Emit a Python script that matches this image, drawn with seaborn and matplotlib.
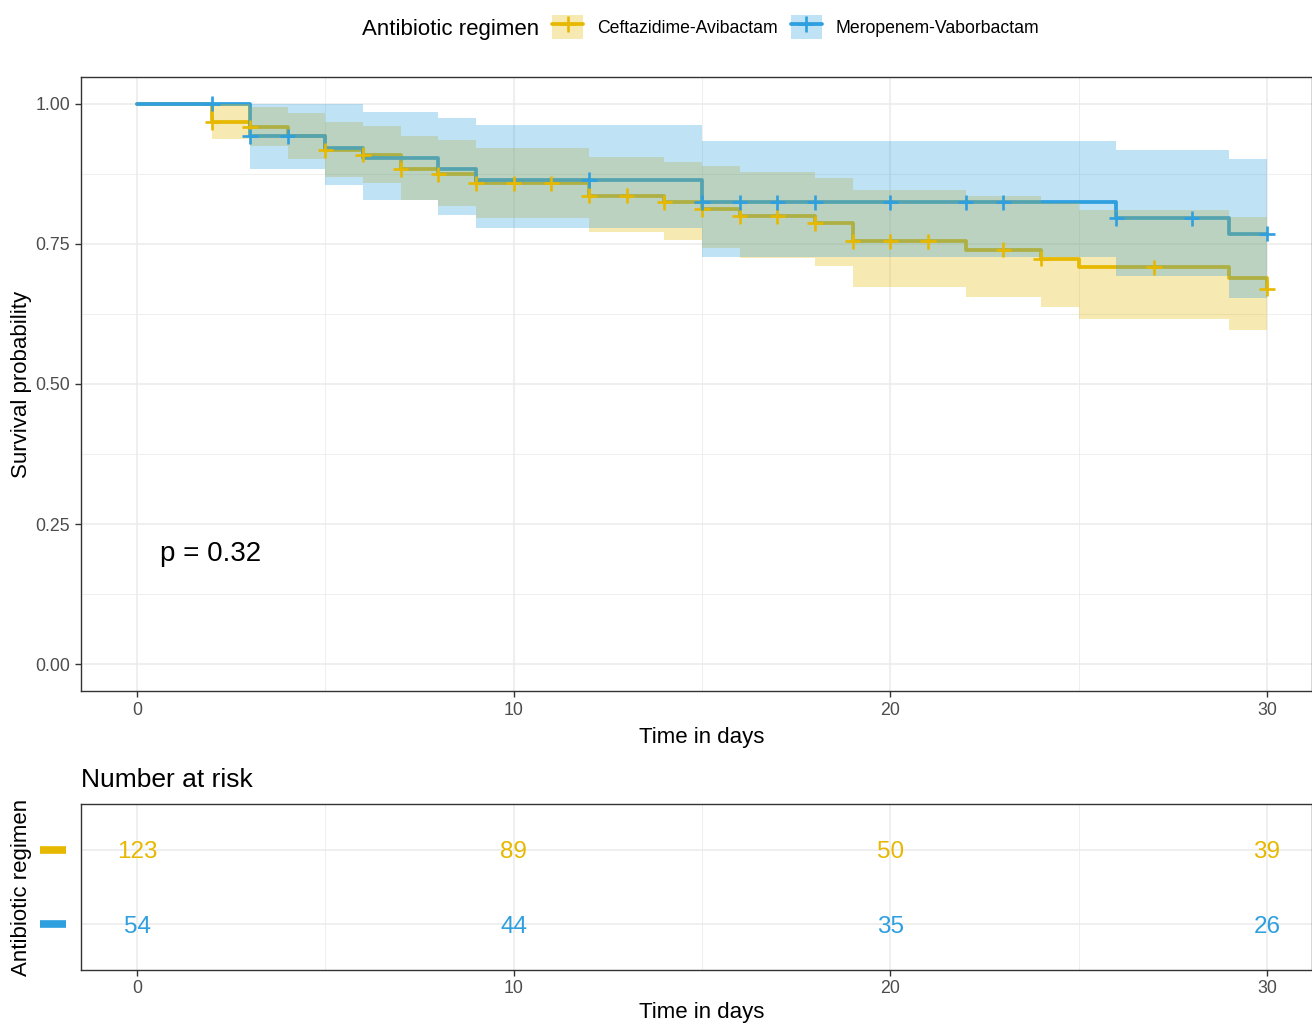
import numpy as np
import pandas as pd
import matplotlib
matplotlib.use('Agg')
import matplotlib.pyplot as plt
import matplotlib.transforms as mtransforms
from matplotlib.lines import Line2D
from matplotlib.patches import Patch
from matplotlib.ticker import MultipleLocator
import seaborn as sns

groups = ['Ceftazidime-Avibactam', 'Meropenem-Vaborbactam']
colors = ['#E7B800', '#2E9FDF']

# Kaplan-Meier steps
caz_time = [0, 2, 3, 4, 5, 6, 7, 8, 9, 12, 14, 15, 16, 18, 19, 22, 24, 25, 29, 30]
caz_surv = [1.0, 0.967, 0.958, 0.942, 0.917, 0.909, 0.883, 0.874, 0.858, 0.836, 0.824,
            0.812, 0.799, 0.787, 0.755, 0.740, 0.724, 0.708, 0.690, 0.670]
caz_upper = [1.0, 1.0, 0.994, 0.984, 0.967, 0.961, 0.943, 0.936, 0.922, 0.906, 0.897,
             0.889, 0.879, 0.868, 0.846, 0.836, 0.823, 0.811, 0.798, 0.798]
caz_lower = [1.0, 0.937, 0.925, 0.902, 0.870, 0.859, 0.829, 0.818, 0.797, 0.771, 0.757,
             0.742, 0.725, 0.710, 0.674, 0.656, 0.637, 0.616, 0.596, 0.596]
caz_censor = [2, 3, 5, 6, 7, 8, 9, 10, 11, 12, 13, 14, 15, 16, 17, 18, 19, 20, 21, 23, 24, 27, 30]

mev_time = [0, 3, 5, 6, 8, 9, 15, 26, 29, 30]
mev_surv = [1.0, 0.942, 0.922, 0.903, 0.884, 0.864, 0.824, 0.796, 0.768, 0.768]
mev_upper = [1.0, 1.0, 1.0, 0.986, 0.974, 0.9625, 0.934, 0.918, 0.901, 0.901]
mev_lower = [1.0, 0.883, 0.855, 0.829, 0.802, 0.778, 0.727, 0.692, 0.654, 0.654]
mev_censor = [2, 3, 4, 12, 15, 16, 17, 18, 20, 22, 23, 26, 28, 30]

risk_times = [0, 10, 20, 30]
caz_risk = [123, 89, 50, 39]
mev_risk = [54, 44, 35, 26]
p_label = 'p = 0.32'

y_ticks = [0, 0.25, 0.5, 0.75, 1.0]
y_ticklabels = ['0.00', '0.25', '0.50', '0.75', '1.00']
x_ticks = [0, 10, 20, 30]

sns.set_style('whitegrid')
plt.rcParams['font.family'] = ['Liberation Sans', 'DejaVu Sans']
plt.rcParams['text.color'] = 'black'
plt.rcParams['axes.labelcolor'] = 'black'

curves = [
    (groups[0], caz_time, caz_surv, caz_upper, caz_lower, caz_censor),
    (groups[1], mev_time, mev_surv, mev_upper, mev_lower, mev_censor),
]

rows, cens_rows = [], []
for name, t, s, up, lo, cens in curves:
    for ti, si in zip(t, s):
        rows.append({'time': ti, 'surv': si, 'group': name})
    for c in cens:
        idx = np.searchsorted(t, c, side='right') - 1
        cens_rows.append({'time': c, 'surv': s[idx], 'group': name})
km_df = pd.DataFrame(rows)
cens_df = pd.DataFrame(cens_rows)
palette = dict(zip(groups, colors))

fig = plt.figure(figsize=(13.12, 10.24), dpi=100)
ax = fig.add_axes([81 / 1312, 1 - 691 / 1024, 1231 / 1312, 614 / 1024])
ax2 = fig.add_axes([81 / 1312, 1 - 970 / 1024, 1231 / 1312, 166 / 1024])

grid_c = '#EBEBEB'
tick_c = '#4D4D4D'
border_c = '#333333'
xlim = (-1.487, 31.195)

# survival curves
sns.lineplot(data=km_df, x='time', y='surv', hue='group', palette=palette,
             drawstyle='steps-post', errorbar=None, lw=2.7, legend=False, ax=ax, zorder=2)
for (name, t, s, up, lo, cens), c in zip(curves, colors):
    ax.fill_between(t, lo, up, step='post', color=c, alpha=0.3, lw=0, zorder=3)
sns.scatterplot(data=cens_df, x='time', y='surv', hue='group', palette=palette,
                marker='+', s=120, linewidth=1.9, legend=False, ax=ax, zorder=4)

ax.text(0.6, 0.196, p_label, fontsize=20, va='center', ha='left')

ax.set_xlim(*xlim)
ax.set_ylim(-0.048, 1.048)
ax.set_xticks(x_ticks)
ax.set_yticks(y_ticks)
ax.set_yticklabels(y_ticklabels)
ax.xaxis.set_minor_locator(MultipleLocator(5))
ax.yaxis.set_minor_locator(MultipleLocator(0.125))
ax.set_xlabel('Time in days', fontsize=16, labelpad=6)
ax.xaxis.label.set_x(0.5045)
ax.set_ylabel('Survival probability', fontsize=16)
ax.yaxis.set_label_coords(-0.04, 0.5)

# risk table
for i, (vals, c) in enumerate(zip([caz_risk, mev_risk], colors)):
    for tx, v in zip(risk_times, vals):
        ax2.text(tx, i, str(v), color=c, fontsize=17.5, ha='center', va='center_baseline')
    trans = mtransforms.blended_transform_factory(ax2.transAxes, ax2.transData)
    ax2.plot([-0.0333, -0.0122], [i, i], color=c, lw=5.5, transform=trans,
             clip_on=False, solid_capstyle='butt')

ax2.set_xlim(*xlim)
ax2.set_ylim(1.613, -0.613)
ax2.set_xticks(x_ticks)
ax2.set_yticks([0, 1])
ax2.set_yticklabels(['', ''])
ax2.xaxis.set_minor_locator(MultipleLocator(5))
ax2.set_xlabel('Time in days', fontsize=16, labelpad=3.5)
ax2.xaxis.label.set_x(0.5045)
ax2.set_ylabel('Antibiotic regimen', fontsize=16)
ax2.yaxis.set_label_coords(-0.04, 0.5)
ax2.set_title('Number at risk', loc='left', fontsize=19, pad=12)

for a in (ax, ax2):
    a.grid(which='major', color=grid_c, lw=1.1)
    a.grid(which='minor', color=grid_c, lw=0.6)
    a.set_axisbelow(True)
    for sp in a.spines.values():
        sp.set_color(border_c)
        sp.set_linewidth(1.0)
    a.tick_params(which='major', length=4, width=1, color=border_c, labelcolor=tick_c,
                  labelsize=12.8, pad=4, bottom=True, left=True)
    a.tick_params(which='minor', length=0)
ax2.tick_params(axis='y', which='major', length=0)
ax2.tick_params(axis='x', which='major', pad=3)

# legend at top
fig.text(539 / 1312, 1 - 27 / 1024, 'Antibiotic regimen', ha='right', va='center_baseline', fontsize=16)
handles = [(Patch(facecolor=c, alpha=0.3, lw=0),
            Line2D([], [], color=c, lw=2.7, marker='+', ms=11, mew=1.9)) for c in colors]
fig.legend(handles, groups, loc='center left', bbox_to_anchor=(552 / 1312, 1 - 27 / 1024),
           ncol=2, frameon=False, fontsize=12.7, handlelength=1.76, handleheight=1.8,
           handletextpad=0.8, columnspacing=0.74, borderpad=0, borderaxespad=0)

fig.savefig('out.png', dpi=100)
